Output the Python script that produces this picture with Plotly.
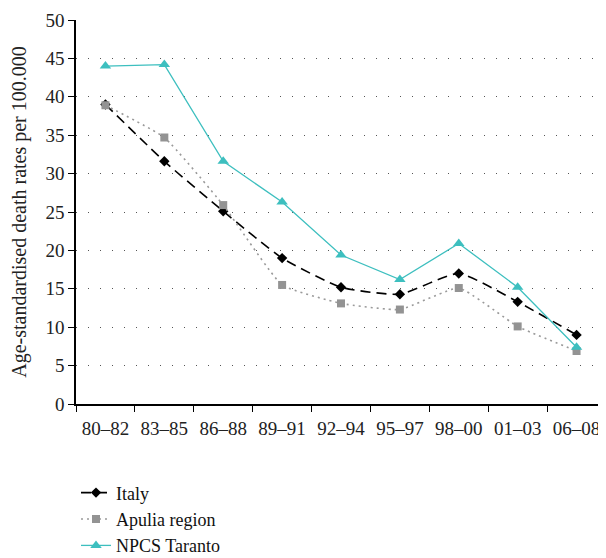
import plotly.graph_objects as go

periods = ["80–82", "83–85", "86–88", "89–91", "92–94", "95–97", "98–00", "01–03", "06–08"]
italy = [39.0, 31.6, 25.1, 19.0, 15.2, 14.3, 17.0, 13.3, 9.0]
apulia = [38.9, 34.7, 25.9, 15.5, 13.1, 12.3, 15.1, 10.1, 6.9]
taranto = [44.0, 44.2, 31.6, 26.3, 19.4, 16.2, 20.9, 15.2, 7.4]
y_ticks = [0, 5, 10, 15, 20, 25, 30, 35, 40, 45, 50]

FONT = "Liberation Serif"

fig = go.Figure()
fig.add_trace(go.Scatter(
    x=periods, y=italy, name="Italy", mode="lines+markers",
    line=dict(color="black", width=1.6, dash="10px,6px", shape="spline", smoothing=0.5),
    marker=dict(symbol="diamond", size=8, color="black"),
))
fig.add_trace(go.Scatter(
    x=periods, y=apulia, name="Apulia region", mode="lines+markers",
    line=dict(color="#9a9a9a", width=1.6, dash="2px,4px", shape="spline", smoothing=0.4),
    marker=dict(symbol="square", size=8, color="#939393"),
))
fig.add_trace(go.Scatter(
    x=periods, y=taranto, name="NPCS Taranto", mode="lines+markers",
    line=dict(color="#3dbfbf", width=1.3),
    marker=dict(symbol="triangle-up", size=10, color="#3dbfbf"),
))

# page body has an 8px margin, so the figure is sized to fit the window
fig.update_layout(
    width=598, height=550,
    margin=dict(l=68, r=0, t=12, b=154),
    paper_bgcolor="white", plot_bgcolor="white",
    font=dict(family=FONT, size=19, color="#222"),
    showlegend=True,
    legend=dict(x=0.0, xanchor="left", xref="paper",
                y=0.152, yanchor="top", yref="container",
                font=dict(family=FONT, size=18, color="#111"),
                tracegroupgap=0, itemwidth=30, bgcolor="rgba(0,0,0,0)"),
)
fig.update_xaxes(
    type="category", range=[-0.5, 8.5], automargin=False,
    showline=True, linecolor="black", linewidth=1.5,
    ticks="outside", tickson="boundaries", ticklen=6, tickcolor="black",
    showgrid=False, tickfont=dict(family=FONT, size=19, color="#222"),
    ticklabelstandoff=6,
)
fig.update_yaxes(
    range=[0, 50], tickvals=y_ticks, automargin=False,
    showline=True, linecolor="black", linewidth=1.5,
    ticks="outside", ticklen=6, tickcolor="black",
    showgrid=True, gridcolor="#555", gridwidth=1, griddash="1px,11px",
    zeroline=False,
    tickfont=dict(family=FONT, size=19, color="#222"),
    title=dict(text="Age-standardised death rates per 100.000",
               font=dict(family=FONT, size=20, color="#222"), standoff=13),
)
fig.write_html("out.html")
